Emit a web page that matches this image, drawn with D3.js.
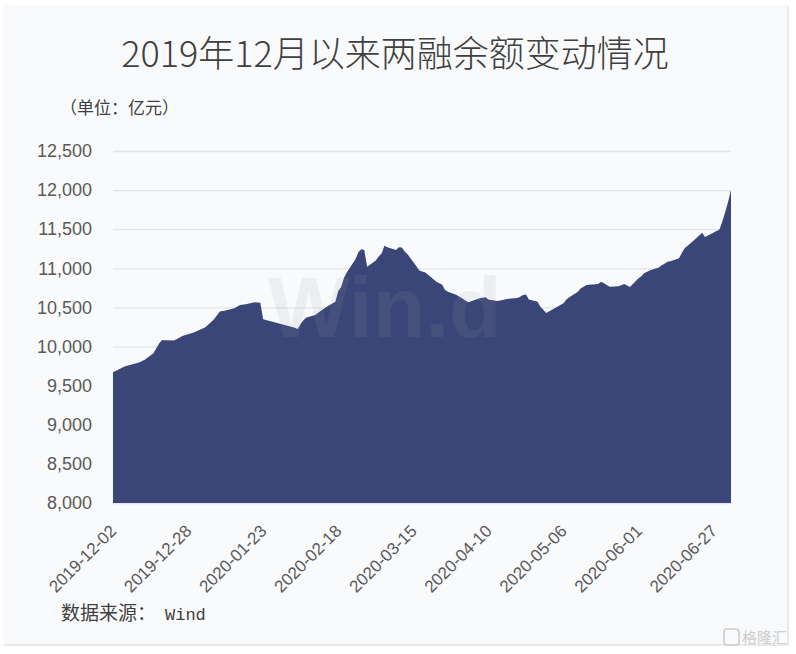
<!DOCTYPE html>
<html>
<head>
<meta charset="utf-8">
<script src="https://cdn.jsdelivr.net/npm/d3@7/dist/d3.min.js"></script>
<style>
  html, body { margin: 0; padding: 0; background: #ffffff; }
  svg { display: block; }
</style>
</head>
<body>
<svg id="chart" width="796" height="654"></svg>
<script>
// ---- data (unit: 亿元) ----
const titleText = "2019年12月以来两融余额变动情况";
const unitText = "（单位：亿元）";
const sourceLabel = "数据来源：";
const sourceName = "Wind";

const dates = [
  "2019-12-02","2019-12-06","2019-12-11","2019-12-13","2019-12-16","2019-12-18","2019-12-19","2019-12-20",
  "2019-12-23","2019-12-24","2019-12-26","2019-12-30","2020-01-03","2020-01-06","2020-01-08","2020-01-10",
  "2020-01-13","2020-01-15","2020-01-17","2020-01-20","2020-01-22","2020-01-23","2020-02-03","2020-02-04",
  "2020-02-05","2020-02-06","2020-02-07","2020-02-10","2020-02-12","2020-02-14","2020-02-17","2020-02-18",
  "2020-02-19","2020-02-20","2020-02-21","2020-02-24","2020-02-25","2020-02-26","2020-02-27","2020-02-28",
  "2020-03-02","2020-03-03","2020-03-04","2020-03-05","2020-03-06","2020-03-09","2020-03-10","2020-03-11",
  "2020-03-12","2020-03-13","2020-03-16","2020-03-17","2020-03-18","2020-03-19","2020-03-20","2020-03-23",
  "2020-03-24","2020-03-25","2020-03-26","2020-03-27","2020-03-30","2020-03-31","2020-04-01","2020-04-02",
  "2020-04-03","2020-04-07","2020-04-08","2020-04-09","2020-04-10","2020-04-13","2020-04-14","2020-04-15",
  "2020-04-16","2020-04-17","2020-04-20","2020-04-21","2020-04-22","2020-04-23","2020-04-24","2020-04-27",
  "2020-04-28","2020-04-29","2020-04-30","2020-05-06","2020-05-07","2020-05-08","2020-05-11","2020-05-12",
  "2020-05-13","2020-05-14","2020-05-15","2020-05-18","2020-05-19","2020-05-20","2020-05-21","2020-05-22",
  "2020-05-25","2020-05-26","2020-05-27","2020-05-28","2020-05-29","2020-06-01","2020-06-02","2020-06-03",
  "2020-06-04","2020-06-05","2020-06-08","2020-06-09","2020-06-10","2020-06-11","2020-06-12","2020-06-15",
  "2020-06-16","2020-06-17","2020-06-18","2020-06-19","2020-06-22","2020-06-23","2020-06-24","2020-06-29",
  "2020-06-30","2020-07-01","2020-07-02","2020-07-03"
];
const balances = [
  9670, 9745, 9796, 9830, 9915, 10043, 10085, 10080,
  10077, 10094, 10136, 10179, 10247, 10350, 10447, 10460,
  10490, 10532, 10541, 10566, 10560, 10350, 10240, 10225,
  10290, 10340, 10370, 10404, 10459, 10510, 10574, 10710,
  10760, 10880, 10950, 11120, 11210, 11245, 11235, 11020,
  11100, 11150, 11191, 11290, 11270, 11233, 11270, 11265,
  11215, 11180, 11030, 10975, 10960, 10950, 10920, 10830,
  10810, 10790, 10723, 10700, 10660, 10638, 10615, 10590,
  10566, 10617, 10625, 10630, 10600, 10583, 10590, 10595,
  10604, 10610, 10620, 10638, 10660, 10665, 10600, 10574,
  10510, 10470, 10430, 10553, 10600, 10630, 10700, 10745,
  10765, 10787, 10790, 10800, 10829, 10810, 10787, 10765,
  10770, 10785, 10800, 10780, 10760, 10872, 10900, 10940,
  10957, 10975, 11010, 11040, 11060, 11084, 11090, 11128,
  11200, 11260, 11290, 11320, 11420, 11454, 11400, 11495,
  11600, 11720, 11850, 12000
];
const yTicks = [8000, 8500, 9000, 9500, 10000, 10500, 11000, 11500, 12000, 12500];
const xTickLabels = ["2019-12-02","2019-12-28","2020-01-23","2020-02-18","2020-03-15",
                     "2020-04-10","2020-05-06","2020-06-01","2020-06-27"];

// ---- layout ----
const plot = { left: 113, right: 731, top: 151, bottom: 503 };
const parse = d3.timeParse("%Y-%m-%d");
const series = dates.map((d, i) => ({ date: parse(d), value: balances[i] }));

const svg = d3.select("#chart");

// card background
svg.append("rect").attr("x", 4).attr("y", 6).attr("width", 785).attr("height", 640)
  .attr("fill", "#e9eaec");
svg.append("rect").attr("x", 3).attr("y", 5).attr("width", 784).attr("height", 639)
  .attr("fill", "#f9fafc");

const x = d3.scaleTime()
  .domain([parse("2019-12-02"), parse("2020-07-03")])
  .range([plot.left, plot.right]);
const y = d3.scaleLinear()
  .domain([8000, 12500])
  .range([plot.bottom, plot.top]);

// grid lines
svg.append("g")
  .attr("transform", `translate(${plot.left},0)`)
  .call(d3.axisLeft(y).tickValues(yTicks).tickSize(-(plot.right - plot.left)).tickFormat(""))
  .call(g => g.select(".domain").remove())
  .call(g => g.selectAll("line").attr("stroke", "#e3e4e6").attr("stroke-width", 1.3));

// area
const area = d3.area()
  .x(d => x(d.date))
  .y0(y(8000))
  .y1(d => y(d.value));
svg.append("path").datum(series)
  .attr("d", area)
  .attr("fill", "#3a4678");

// y-axis labels
const fmt = d3.format(",");
svg.append("g")
  .attr("transform", `translate(${plot.left},0)`)
  .call(d3.axisLeft(y).tickValues(yTicks).tickSize(0).tickPadding(21).tickFormat(fmt))
  .call(g => g.select(".domain").remove())
  .call(g => g.selectAll("text")
    .attr("fill", "#595959")
    .attr("font-family", "'Liberation Sans', Arial, sans-serif")
    .attr("font-size", 18));

// x-axis labels
const xTickDates = xTickLabels.map(parse);
svg.append("g")
  .attr("transform", `translate(0,${plot.bottom})`)
  .call(d3.axisBottom(x).tickValues(xTickDates).tickSize(0).tickFormat(d3.timeFormat("%Y-%m-%d")))
  .call(g => g.select(".domain").remove())
  .call(g => g.selectAll("text")
    .attr("fill", "#595959")
    .attr("font-family", "'Liberation Sans', Arial, sans-serif")
    .attr("font-size", 17)
    .attr("text-anchor", "end")
    .attr("dy", null)
    .attr("y", 0)
    .attr("transform", "translate(4,29) rotate(-45)"));

// watermark
svg.append("text")
  .attr("x", 385).attr("y", 337)
  .attr("text-anchor", "middle")
  .attr("font-family", "'Liberation Sans', Arial, sans-serif")
  .attr("font-weight", "bold")
  .attr("font-size", 86)
  .attr("fill", "#9c9c9c")
  .attr("opacity", 0.12)
  .text("Win.d");

// title
svg.append("text")
  .attr("x", 395).attr("y", 67)
  .attr("text-anchor", "middle")
  .attr("font-family", "'Noto Sans CJK SC', sans-serif")
  .attr("font-weight", 300)
  .attr("font-size", 36)
  .attr("fill", "#404040")
  .text(titleText);

// unit
svg.append("text")
  .attr("x", 60).attr("y", 114)
  .attr("font-family", "'Noto Sans CJK SC', sans-serif")
  .attr("font-size", 17)
  .attr("fill", "#404040")
  .text(unitText);

// source
const src = svg.append("text")
  .attr("x", 61).attr("y", 620)
  .attr("font-family", "'Noto Sans CJK SC', sans-serif")
  .attr("font-size", 19)
  .attr("fill", "#404040");
src.append("tspan").text(sourceLabel);
src.append("tspan")
  .attr("dx", 9)
  .attr("font-family", "'Liberation Mono', 'DejaVu Sans Mono', monospace")
  .attr("font-size", 17)
  .text(sourceName);

// corner logo
const logo = svg.append("g").attr("opacity", 0.9);
logo.append("rect").attr("x", 724).attr("y", 629).attr("width", 15).attr("height", 16)
  .attr("rx", 3).attr("fill", "none").attr("stroke", "#c9c9c9").attr("stroke-width", 1.6);
logo.append("text").attr("x", 742).attr("y", 643)
  .attr("font-family", "'Noto Sans CJK SC', sans-serif")
  .attr("font-size", 15).attr("fill", "#c9c9c9")
  .text("格隆汇");
</script>
</body>
</html>
